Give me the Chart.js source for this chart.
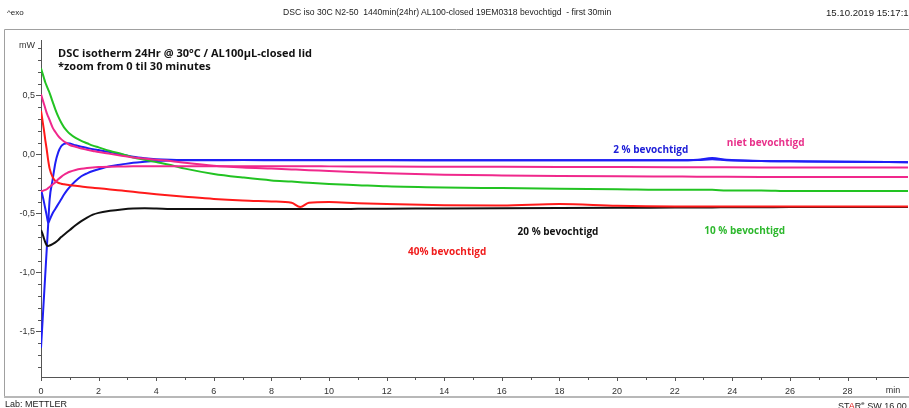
<!DOCTYPE html>
<html>
<head>
<meta charset="utf-8">
<script src="https://cdn.jsdelivr.net/npm/chart.js@4.4.1/dist/chart.umd.min.js"></script>
<style>
  html, body { margin: 0; padding: 0; background: #fff; }
  #wrap { position: relative; width: 909px; height: 408px; overflow: hidden; }
  #dsc { position: absolute; left: 0; top: 0; }
  .t { position: absolute; white-space: nowrap; font-family: "Liberation Sans Narrow", "Liberation Sans", Arial, sans-serif; color: #222; line-height: 1; }
  .ttl { position: absolute; white-space: nowrap; font-family: "Open Sans", "Noto Sans", sans-serif; font-weight: 700; font-size: 11px; color: #111; line-height: 1; }
</style>
</head>
<body>
<div id="wrap">
  <canvas id="dsc" width="909" height="408"></canvas>
  <div class="t" style="left:7px;top:9px;font-size:8px">^exo</div>
  <div class="t" style="left:283px;top:8px;font-size:8.6px">DSC iso 30C N2-50&nbsp; 1440min(24hr) AL100-closed 19EM0318 bevochtigd&nbsp; - first 30min</div>
  <div class="t" style="left:826px;top:8px;font-size:9.6px">15.10.2019 15:17:15</div>
  <div class="ttl" style="left:58px;top:47px">DSC isotherm 24Hr @ 30°C / AL100µL-closed lid</div>
  <div class="ttl" style="left:58px;top:60px">*zoom from 0 til 30 minutes</div>
  <div class="t" style="left:5px;top:400px;font-size:9px">Lab: METTLER</div>
  <div class="t" style="left:838px;top:400px;font-size:9px">ST<span style="color:#e01010">A</span>R<sup style="font-size:6px">e</sup> SW 16.00</div>
</div>
<script>
// tijd in minuten (gedeeld door alle curves)
const minutes = [0, 0.05, 0.1, 0.15, 0.2, 0.25, 0.3, 0.4, 0.5, 0.6, 0.7, 0.8, 0.9, 1.0,
  1.2, 1.4, 1.6, 1.8, 2.0, 2.4, 2.8, 3.2, 3.6, 4.0, 4.5, 5, 6, 7, 8, 8.7, 9.0, 9.3,
  10, 11, 12, 14, 16, 18, 20, 22, 22.8, 23.3, 23.8, 25, 26, 28, 30.1];

// 2 % bevochtigd (twee metingen)
const blueA = [-1.64, -1.43, -1.22, -1.01, -0.80, -0.59, -0.38, -0.22, -0.07, 0.02, 0.07, 0.09, 0.095, 0.092,
  0.078, 0.065, 0.055, 0.045, 0.037, 0.02, 0.0, -0.02, -0.032, -0.04, -0.045, -0.047, -0.048, -0.048, -0.049, -0.05, -0.05, -0.05,
  -0.05, -0.05, -0.05, -0.05, -0.05, -0.05, -0.05, -0.05, -0.045, -0.03, -0.045, -0.055, -0.058, -0.062, -0.065];
const blueB = [-0.30, -0.345, -0.40, -0.46, -0.52, -0.58, -0.555, -0.50, -0.46, -0.42, -0.38, -0.34, -0.305, -0.275,
  -0.225, -0.185, -0.16, -0.14, -0.125, -0.10, -0.085, -0.07, -0.062, -0.056, -0.052, -0.05, -0.049, -0.048, -0.048, -0.048, -0.048, -0.048,
  -0.048, -0.048, -0.048, -0.049, -0.05, -0.05, -0.05, -0.05, -0.048, -0.04, -0.05, -0.056, -0.058, -0.062, -0.065];

// niet bevochtigd (twee metingen)
const pinkA = [0.51, 0.47, 0.43, 0.39, 0.35, 0.32, 0.29, 0.23, 0.19, 0.155, 0.13, 0.11, 0.095, 0.08,
  0.065, 0.05, 0.04, 0.03, 0.02, 0.005, -0.01, -0.025, -0.035, -0.045, -0.055, -0.07, -0.095, -0.11, -0.12, -0.127, -0.13, -0.133,
  -0.14, -0.15, -0.16, -0.172, -0.178, -0.182, -0.185, -0.187, -0.188, -0.188, -0.189, -0.19, -0.19, -0.19, -0.19];
const pinkB = [-0.31, -0.31, -0.305, -0.30, -0.295, -0.285, -0.275, -0.255, -0.235, -0.21, -0.19, -0.172, -0.158, -0.147,
  -0.132, -0.122, -0.115, -0.11, -0.107, -0.104, -0.102, -0.10, -0.10, -0.10, -0.10, -0.10, -0.10, -0.10, -0.10, -0.10, -0.10, -0.10,
  -0.101, -0.102, -0.103, -0.104, -0.105, -0.106, -0.107, -0.108, -0.108, -0.108, -0.109, -0.11, -0.11, -0.11, -0.11];

// 10 % bevochtigd
const green10 = [0.73, 0.69, 0.65, 0.61, 0.58, 0.55, 0.52, 0.45, 0.38, 0.32, 0.27, 0.23, 0.20, 0.175,
  0.14, 0.115, 0.095, 0.075, 0.06, 0.03, 0.005, -0.025, -0.045, -0.065, -0.09, -0.12, -0.165, -0.195, -0.22, -0.23, -0.235, -0.24,
  -0.25, -0.26, -0.27, -0.28, -0.285, -0.29, -0.295, -0.30, -0.30, -0.30, -0.305, -0.305, -0.31, -0.31, -0.31];

// 40% bevochtigd
const red40 = [0.37, 0.29, 0.21, 0.12, 0.04, -0.05, -0.12, -0.19, -0.225, -0.24, -0.248, -0.253, -0.257, -0.26,
  -0.266, -0.272, -0.277, -0.282, -0.287, -0.296, -0.306, -0.316, -0.327, -0.337, -0.348, -0.358, -0.377, -0.39, -0.398, -0.41, -0.445, -0.41,
  -0.403, -0.413, -0.42, -0.43, -0.432, -0.42, -0.435, -0.44, -0.44, -0.44, -0.44, -0.44, -0.44, -0.44, -0.44];

// 20 % bevochtigd
const black20 = [-0.64, -0.67, -0.71, -0.745, -0.77, -0.775, -0.772, -0.76, -0.745, -0.725, -0.70, -0.68, -0.66, -0.64,
  -0.60, -0.565, -0.535, -0.51, -0.495, -0.478, -0.466, -0.458, -0.456, -0.458, -0.462, -0.463, -0.463, -0.463, -0.463, -0.463, -0.463, -0.463,
  -0.462, -0.461, -0.46, -0.458, -0.456, -0.454, -0.452, -0.45, -0.449, -0.449, -0.448, -0.447, -0.446, -0.445, -0.445];

// assen
const xTicks = [0, 2, 4, 6, 8, 10, 12, 14, 16, 18, 20, 22, 24, 26, 28];
const xMinorTicks = [1, 3, 5, 7, 9, 11, 13, 15, 17, 19, 21, 23, 25, 27, 29];
const yTicks = [-1.5, -1.0, -0.5, 0.0, 0.5];
const yMinorTicks = [-1.8, -1.7, -1.6, -1.4, -1.3, -1.2, -1.1, -0.9, -0.8, -0.7, -0.6,
  -0.4, -0.3, -0.2, -0.1, 0.1, 0.2, 0.3, 0.4, 0.6, 0.7, 0.8, 0.9];

// labels bij de curves: [tekst, x (min), y (mW), kleur]
const curveLabels = [
  ['2 % bevochtigd', 21.17, 0.04, '#2020d8'],
  ['niet bevochtigd', 25.16, 0.10, '#e8308a'],
  ['20 % bevochtigd', 17.95, -0.657, '#111111'],
  ['10 % bevochtigd', 24.43, -0.648, '#2db82d'],
  ['40% bevochtigd', 14.10, -0.826, '#f01c1c']
];

function pts(values) {
  return minutes.map((m, i) => ({ x: m, y: values[i] }));
}

function serie(values, color) {
  return {
    data: pts(values),
    borderColor: color,
    borderWidth: 2,
    pointRadius: 0,
    fill: false,
    cubicInterpolationMode: 'monotone'
  };
}

const dscDecor = {
  id: 'dscDecor',
  beforeDraw(chart) {
    const ctx = chart.ctx;
    ctx.save();
    ctx.strokeStyle = '#a0a0a0';
    ctx.lineWidth = 1;
    ctx.beginPath();
    ctx.moveTo(4.5, 397);
    ctx.lineTo(4.5, 29.5);
    ctx.lineTo(909, 29.5);
    ctx.stroke();
    ctx.strokeStyle = '#b8b8b8';
    ctx.lineWidth = 2;
    ctx.beginPath();
    ctx.moveTo(4, 397);
    ctx.lineTo(909, 397);
    ctx.stroke();
    ctx.restore();
  },
  afterDraw(chart) {
    const ctx = chart.ctx;
    const x = chart.scales.x;
    const y = chart.scales.y;
    const area = chart.chartArea;
    ctx.save();
    ctx.strokeStyle = '#555';
    ctx.lineWidth = 1;
    ctx.beginPath();
    xTicks.forEach(v => { const p = Math.round(x.getPixelForValue(v)) + 0.5; ctx.moveTo(p, area.bottom); ctx.lineTo(p, area.bottom + 4); });
    xMinorTicks.forEach(v => { const p = Math.round(x.getPixelForValue(v)) + 0.5; ctx.moveTo(p, area.bottom); ctx.lineTo(p, area.bottom + 3); });
    yTicks.forEach(v => { const p = Math.round(y.getPixelForValue(v)) + 0.5; ctx.moveTo(area.left, p); ctx.lineTo(area.left - 5, p); });
    yMinorTicks.forEach(v => { const p = Math.round(y.getPixelForValue(v)) + 0.5; ctx.moveTo(area.left, p); ctx.lineTo(area.left - 3, p); });
    ctx.stroke();

    ctx.fillStyle = '#333';
    ctx.font = '9px "Liberation Sans Narrow", "Liberation Sans", Arial, sans-serif';
    ctx.textAlign = 'right';
    ctx.textBaseline = 'middle';
    ctx.fillText('mW', area.left - 6, 46);
    ctx.textAlign = 'center';
    ctx.fillText('min', 893, 391);

    ctx.font = 'bold 10px "Open Sans", "Noto Sans", sans-serif';
    curveLabels.forEach(([txt, lx, ly, col]) => {
      ctx.fillStyle = col;
      ctx.fillText(txt, x.getPixelForValue(lx), y.getPixelForValue(ly));
    });
    ctx.restore();
  }
};

new Chart(document.getElementById('dsc').getContext('2d'), {
  type: 'line',
  data: {
    datasets: [
      serie(pinkA, '#f0288c'),
      serie(pinkB, '#f0288c'),
      serie(green10, '#22c322'),
      serie(red40, '#ff1a1a'),
      serie(black20, '#111111'),
      serie(blueB, '#1f1ff5'),
      serie(blueA, '#1f1ff5')
    ]
  },
  options: {
    responsive: false,
    animation: false,
    devicePixelRatio: 1,
    layout: { padding: { left: 0, right: 1, top: 40, bottom: 0 } },
    plugins: { legend: { display: false }, tooltip: { enabled: false } },
    scales: {
      x: {
        type: 'linear',
        min: 0,
        max: 30.1,
        afterBuildTicks: s => { s.ticks = xTicks.map(v => ({ value: v })); },
        afterFit: s => { s.height = 31; },
        grid: { display: false, drawTicks: false },
        border: { display: true, color: '#555', width: 1 },
        ticks: {
          color: '#333',
          padding: 9,
          maxRotation: 0,
          autoSkip: false,
          font: { size: 9, family: '"Liberation Sans Narrow", "Liberation Sans", Arial, sans-serif' },
          callback: v => String(v)
        }
      },
      y: {
        type: 'linear',
        min: -1.886,
        max: 0.97,
        afterBuildTicks: s => { s.ticks = yTicks.map(v => ({ value: v })); },
        afterFit: s => { s.width = 41; },
        grid: { display: false, drawTicks: false },
        border: { display: true, color: '#555', width: 1 },
        ticks: {
          color: '#333',
          padding: 6,
          autoSkip: false,
          font: { size: 9, family: '"Liberation Sans", Arial, sans-serif' },
          callback: v => v.toFixed(1).replace('.', ',')
        }
      }
    }
  },
  plugins: [dscDecor]
});
</script>
</body>
</html>
